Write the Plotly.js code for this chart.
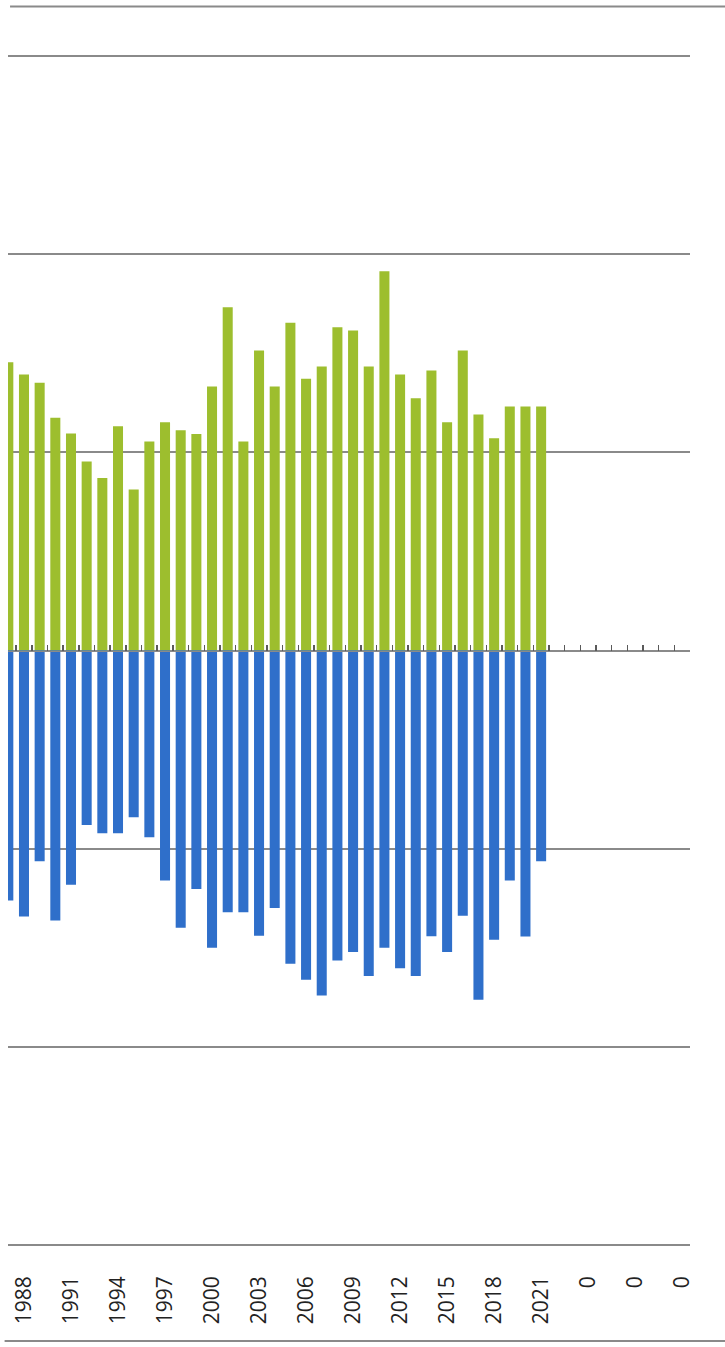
<!DOCTYPE html>
<html>
<head>
<meta charset="utf-8">
<script src="https://cdn.plot.ly/plotly-3.0.1.min.js"></script>
<style>html,body{margin:0;padding:0;background:#fff;}#chart{width:725px;height:1347px;}</style>
</head>
<body>
<div id="chart"></div>
<script>
// Categories (years); 1987 is only partly visible at the left edge
const years = [1987,1988,1989,1990,1991,1992,1993,1994,1995,1996,1997,1998,1999,2000,2001,2002,2003,2004,2005,2006,2007,2008,2009,2010,2011,2012,2013,2014,2015,2016,2017,2018,2019,2020,2021];
// Positive series (green), in gridline units of 10
const positiveValues = [14.55,13.93,13.51,11.74,10.95,9.54,8.71,11.32,8.12,10.55,11.52,11.12,10.93,13.32,17.32,10.55,15.14,13.32,16.54,13.71,14.33,16.31,16.15,14.33,19.14,13.93,12.73,14.13,11.52,15.14,11.91,10.71,12.31,12.31,12.31];
// Negative series (blue)
const negativeValues = [-12.62,-13.42,-10.63,-13.62,-11.82,-8.80,-9.22,-9.22,-8.41,-9.42,-11.61,-13.99,-12.03,-15.00,-13.21,-13.21,-14.40,-12.99,-15.81,-16.62,-17.41,-15.64,-15.22,-16.43,-15.00,-16.03,-16.43,-14.42,-15.22,-13.39,-17.63,-14.60,-11.61,-14.43,-10.63];
// Category axis tick labels (every third category, empty categories labelled 0)
const tickPositions = [1988,1991,1994,1997,2000,2003,2006,2009,2012,2015,2018,2021,2024,2027,2030];
const tickLabels = ['1988','1991','1994','1997','2000','2003','2006','2009','2012','2015','2018','2021','0','0','0'];
// Outer gridline levels (edge of the value range)
const edgeGridLevels = [30, -30];

const GREEN = '#9dbe2e';
const BLUE = '#2f6fca';
const GRID = '#8a8a8a';
const xRange = [1986.98, 2030.5];

const traces = [
  {type:'bar', x: years, y: positiveValues, xaxis:'x', yaxis:'y', marker:{color: GREEN}, width:0.64, hoverinfo:'x+y', showlegend:false},
  {type:'bar', x: years, y: negativeValues, xaxis:'x2', yaxis:'y', marker:{color: BLUE}, width:0.64, hoverinfo:'x+y', showlegend:false}
];

const shapes = edgeGridLevels.map(v => ({type:'line', xref:'paper', yref:'y', x0:0, x1:1, y0:v, y1:v, layer:'below', line:{color:GRID, width:1.8}}));
shapes.push({type:'line', xref:'paper', yref:'paper', x0:0.003, x1:1.06, y0:1.0407, y1:1.0407, line:{color:GRID, width:2}});
shapes.push({type:'line', xref:'paper', yref:'paper', x0:-0.005, x1:1.06, y0:-0.0798, y1:-0.0798, line:{color:GRID, width:2}});

const layout = {
  width:725, height:1347,
  margin:{l:8, r:35, t:55, b:101, pad:0},
  paper_bgcolor:'#ffffff', plot_bgcolor:'#ffffff',
  barmode:'overlay',
  showlegend:false,
  font:{family:'Open Sans, Lato, DejaVu Sans, sans-serif', color:'#222'},
  yaxis:{range:[-30.05,30.05], dtick:10, tick0:0, showgrid:true, gridcolor:GRID, gridwidth:1.8, zeroline:false, showline:false, showticklabels:false, ticks:'', fixedrange:true},
  // axis line at zero with small tick marks at category boundaries
  xaxis:{type:'linear', range:xRange, anchor:'free', position:0.5, showline:true, linecolor:GRID, linewidth:1.8,
         ticks:'inside', ticklen:6, tickwidth:1.4, tickcolor:'#5a5a5a', tick0:1987.5, dtick:1,
         showticklabels:false, showgrid:false, zeroline:false, fixedrange:true},
  // labels at the bottom
  xaxis2:{type:'linear', range:xRange, overlaying:'x', anchor:'y', side:'bottom', showline:false, showgrid:false, zeroline:false,
          ticks:'', tickmode:'array', tickvals:tickPositions, ticktext:tickLabels, tickangle:-90,
          ticklabelstandoff:25, tickfont:{size:21, color:'#222', family:'Open Sans, Lato, sans-serif'}, fixedrange:true},
  shapes: shapes
};

Plotly.newPlot('chart', traces, layout, {displayModeBar:false, staticPlot:true});
</script>
</body>
</html>
